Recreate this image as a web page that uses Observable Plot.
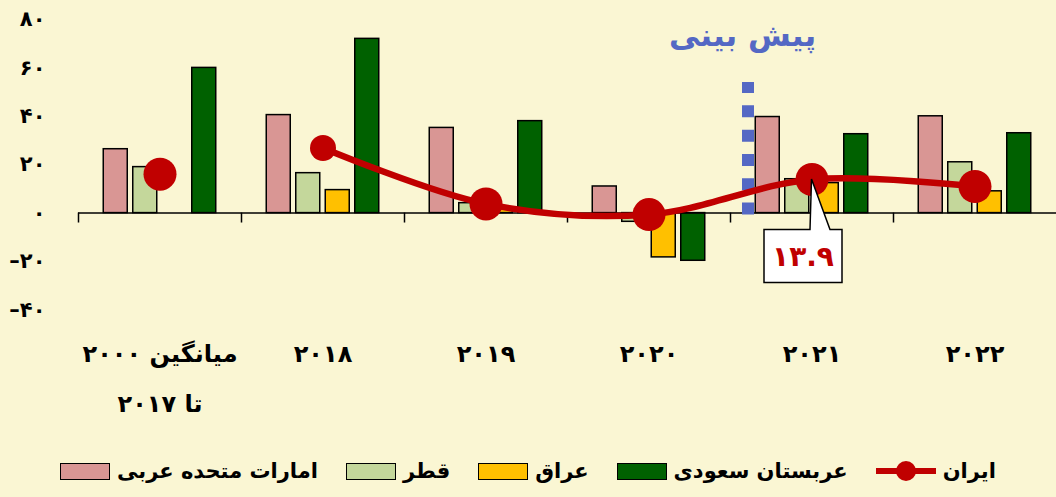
<!DOCTYPE html>
<html><head><meta charset="utf-8">
<script src="https://cdn.jsdelivr.net/npm/d3@7"></script>
<script src="https://cdn.jsdelivr.net/npm/@observablehq/plot@0.6"></script>
<style>
html,body{margin:0;padding:0;background:#FAF6D3;}
body{width:1056px;height:497px;overflow:hidden;font-family:"DejaVu Sans",sans-serif;}
#legend{display:flex;direction:rtl;justify-content:center;align-items:center;gap:28px;font-weight:bold;font-size:21px;height:52px;color:#000;}
.item{display:flex;align-items:center;gap:7px;}
.sw{width:50px;height:17px;border:1.5px solid #000;box-sizing:border-box;}
</style></head><body><div id="chart"></div><div id="legend"></div>
<script>
const groups = ["avg", "2018", "2019", "2020", "2021", "2022"];
const groupLabels = ["میانگین ۲۰۰۰\nتا ۲۰۱۷", "۲۰۱۸", "۲۰۱۹", "۲۰۲۰", "۲۰۲۱", "۲۰۲۲"];
const uae   = [26.4, 40.5, 35.2, 11.0, 39.7, 40.0];
const qatar = [19.0, 16.5, 4.1, -3.6, 14.0, 21.0];
const iraq  = [null, 9.5, 2.0, -18.3, 12.4, 9.0];
const saudi = [60.0, 72.0, 38.0, -19.7, 32.6, 33.0];
const iran  = [16.1, 26.9, 3.8, -0.6, 13.9, 11.0];
const seriesNames = ["امارات متحده عربی", "قطر", "عراق", "عربستان سعودی", "ایران"];
const seriesColors = ["#D99694", "#C4D79B", "#FFC000", "#006100", "#C00000"];
const yTicks = [-40, -20, 0, 20, 40, 60, 80];
const yTickLabels = ["–۴۰", "–۲۰", "۰", "۲۰", "۴۰", "۶۰", "۸۰"];
const forecastLabel = "پیش بینی";
const forecastStart = "2021";
const calloutGroup = "2021";
const calloutText = "۱۳.۹";

const barSeries = [uae, qatar, iraq, saudi];
const barOffsets = [-44.25, -14.75, 14.75, 44.25];
const blue = "#5468C4";

const barMarks = barSeries.map((arr, k) => {
  const rows = groups.map((g, i) => ({g, v: arr[i]})).filter(d => d.v != null);
  return Plot.barY(rows, {x: "g", y: "v", fill: seriesColors[k], stroke: "#000", strokeWidth: 1.5,
    insetLeft: 69.5, insetRight: 69.5, dx: barOffsets[k]});
});

const iranRows = groups.map((g, i) => ({g, v: iran[i]}));
const lineRows = iranRows.slice(1);

function callout(index, scales, values, dimensions) {
  let bw = scales.x.bandwidth;
  if (typeof bw === "function") bw = bw();
  if (!(bw > 0)) bw = (dimensions.width - dimensions.marginLeft - dimensions.marginRight) / groups.length;
  const cx = scales.x(calloutGroup) + bw / 2;
  const cy = scales.y(iran[groups.indexOf(calloutGroup)]);
  const y0 = scales.y(0);
  const top = y0 + 17, bottom = y0 + 70, left = cx - 47.5, right = cx + 30.5;
  const g = d3.create("svg:g");
  g.append("path")
    .attr("d", `M${left},${top}H${cx - 1.5}L${cx},${cy}L${cx + 18.5},${top}H${right}V${bottom}H${left}Z`)
    .attr("fill", "#fff").attr("stroke", "#000").attr("stroke-width", 1.5);
  g.append("text").attr("x", (left + right) / 2).attr("y", (top + bottom) / 2).attr("dy", "0.35em")
    .attr("text-anchor", "middle").attr("fill", "#C00000").attr("font-size", 28)
    .attr("font-weight", "bold").text(calloutText);
  return g.node();
}

const chart = Plot.plot({
  width: 1056, height: 445,
  marginLeft: 78, marginRight: 0, marginTop: 19, marginBottom: 135.6,
  x: {domain: groups, padding: 0, axis: null, label: null},
  y: {domain: [-40, 80], axis: null, label: null},
  style: {background: "transparent", fontFamily: "DejaVu Sans", fontWeight: "bold", overflow: "visible", color: "#000"},
  marks: [
    ...barMarks,
    Plot.ruleY([0], {stroke: "#000", strokeWidth: 1.5}),
    Plot.ruleX(groups, {x: d => d, y1: 0, y2: -4.1, dx: -81.5, stroke: "#000", strokeWidth: 1.5}),
    Plot.ruleX([forecastStart], {x: d => d, y1: -0.8, y2: 54, dx: -64, stroke: blue, strokeWidth: 12, strokeDasharray: "12,12.3"}),
    Plot.line(lineRows, {x: "g", y: "v", stroke: "#C00000", strokeWidth: 6.5, curve: "catmull-rom"}),
    Plot.dot(iranRows.filter(d => d.g !== "2018"), {x: "g", y: "v", r: 16.5, fill: "#C00000"}),
    Plot.dot(iranRows.filter(d => d.g === "2018"), {x: "g", y: "v", r: 13, fill: "#C00000"}),
    callout,
    Plot.text([forecastLabel], {x: () => forecastStart, y: () => 73, text: d => d, dx: -69.5, fill: blue, fontSize: 31, fontWeight: "bold"}),
    Plot.axisY({ticks: yTicks, tickFormat: d => yTickLabels[yTicks.indexOf(d)], tickSize: 0, tickPadding: 33, fontSize: 21, fontWeight: "bold", label: null}),
    Plot.axisX({tickFormat: d => groupLabels[groups.indexOf(d)], tickSize: 0, tickPadding: 16, fontSize: 24, lineHeight: 2.1, fontWeight: "bold", label: null})
  ]
});
document.getElementById("chart").appendChild(chart);

const legend = document.getElementById("legend");
[4, 3, 2, 1, 0].forEach(i => {
  const item = document.createElement("div");
  item.className = "item";
  const t = document.createElement("span");
  t.textContent = seriesNames[i];
  item.appendChild(t);
  if (i === 4) {
    const ns = "http://www.w3.org/2000/svg";
    const s = document.createElementNS(ns, "svg");
    s.setAttribute("width", 60); s.setAttribute("height", 22);
    const l = document.createElementNS(ns, "line");
    l.setAttribute("x1", 0); l.setAttribute("x2", 60); l.setAttribute("y1", 11); l.setAttribute("y2", 11);
    l.setAttribute("stroke", seriesColors[i]); l.setAttribute("stroke-width", 6);
    const c = document.createElementNS(ns, "circle");
    c.setAttribute("cx", 30); c.setAttribute("cy", 11); c.setAttribute("r", 10); c.setAttribute("fill", seriesColors[i]);
    s.appendChild(l); s.appendChild(c);
    item.appendChild(s);
  } else {
    const sw = document.createElement("div");
    sw.className = "sw";
    sw.style.background = seriesColors[i];
    item.appendChild(sw);
  }
  legend.appendChild(item);
});
</script>
</body></html>
